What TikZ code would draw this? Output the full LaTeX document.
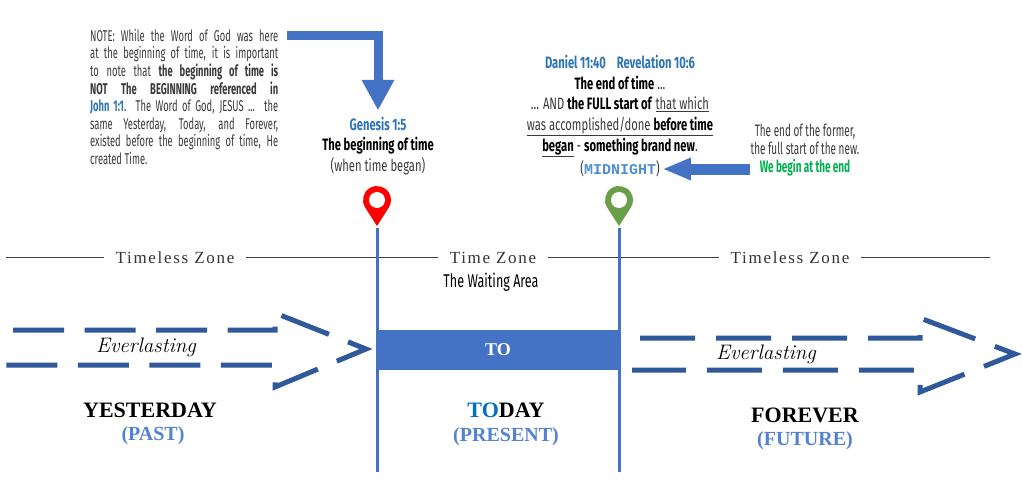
\documentclass[tikz,border=0pt]{standalone}
\usepackage{fontspec}
\usetikzlibrary{calc,arrows.meta}
\newfontfamily\agency{Fira Sans}[FakeStretch=0.68]
\newfontfamily\agencyn{Fira Sans}[FakeStretch=0.6]
\newfontfamily\harring{Liberation Serif}[LetterSpace=10]
\newfontfamily\showy{Liberation Serif}
\newfontfamily\courierb{Liberation Mono}
\definecolor{barblue}{HTML}{4472C4}
\definecolor{dashblue}{HTML}{30599B}
\definecolor{refblue}{HTML}{2E75B6}
\definecolor{pastblue}{HTML}{5382D2}
\definecolor{toblue}{HTML}{0070C0}
\definecolor{midblue}{HTML}{4F8FCF}
\definecolor{wegreen}{HTML}{00B050}
\definecolor{pingreen}{HTML}{6A9E48}
\definecolor{textgray}{HTML}{3A3A3A}
\def\mappin[#1](#2){\fill[#1] ($(#2)+(0,26)$) -- ($(#2)+(147.4:14)$) arc (147.4:392.6:14) -- cycle; \fill[white] (#2) circle (8);}
\def\noteline#1{\makebox[188pt][s]{#1}}
\tikzset{
	txt/.style={inner sep=0pt, text=textgray},
	zone/.style={fill=white, inner xsep=12pt, inner ysep=2pt, text=black!80, font=\harring\fontsize{17}{17}\selectfont},
	bigarrow/.style={draw=barblue, line width=9pt, -{Triangle[width=33pt,length=30pt,line width=0pt]}},
	backarrow/.style={draw=barblue, line width=11pt, -{Triangle[width=23pt,length=27pt,line width=0pt]}},
	dasharrow/.style={draw=dashblue, line width=5pt},
	timeline/.style={draw=barblue, line width=3pt},
	daylabel/.style={font=\showy\bfseries\fontsize{22}{22}\selectfont},
	partlabel/.style={text=pastblue, font=\showy\bfseries\fontsize{20}{20}\selectfont},
	everlabel/.style={font=\itshape\fontsize{21}{21}\selectfont}
}

\begin{document}
\begin{tikzpicture}[x=1pt,y=-1pt]
		%%%%% START %%%%%
		\path[use as bounding box, fill=white] (0,0) rectangle (1023,487);
		
		\node[txt, anchor=north west, align=left, font=\agencyn\fontsize{15.6}{17.6}\selectfont] (note) at (90,29) {%
			\noteline{NOTE: While the Word of God was here}\\
			\noteline{at the beginning of time, it is important}\\
			\noteline{to note that \textbf{the beginning of time is}}\\
			\noteline{\textbf{NOT The BEGINNING referenced in}}\\
			\noteline{\textcolor{refblue}{\textbf{John 1:1}}. The Word of God, JESUS ... the}\\
			\noteline{same Yesterday, Today, and Forever,}\\
			\noteline{existed before the beginning of time, He}\\
			created Time.};
		
		\node[txt, align=center, font=\agency\fontsize{16.5}{20.5}\selectfont] (gen) at (378,146) {%
			\textcolor{refblue}{\textbf{Genesis 1:5}}\\
			\textcolor{black}{\textbf{The beginning of time}}\\
			(when time began)};
		\draw[bigarrow] ([xshift=9pt,yshift=-7pt]note.north east) -| ([yshift=7pt]gen.north);
		
		\node[txt, align=center, font=\agency\fontsize{16.5}{20.6}\selectfont] (dan) at (620,106) {%
			\textcolor{refblue}{\textbf{Daniel 11:40\enspace\ Revelation 10:6}}\\
			\textcolor{black}{\textbf{The end of time}} ...\\
			... AND \textcolor{black}{\textbf{the FULL start of}} \underline{that which}\\
			\underline{was accomplished/done \textcolor{black}{\textbf{before time}}}\\
			\underline{\textcolor{black}{\textbf{began}}} - \textcolor{black}{\textbf{something brand new}}.};
		\node[txt, font=\agency\fontsize{16.5}{16.5}\selectfont] (mid) at (620,169) {(\textcolor{midblue}{\courierb\bfseries\fontsize{15}{15}\selectfont MIDNIGHT})};
		
		\node[txt, align=center, font=\agencyn\fontsize{16.6}{18.3}\selectfont] (endnote) at (805,150) {%
			The end of the former,\\
			the full start of the new.\\
			\textcolor{wegreen}{\textbf{We begin at the end}}};
		\draw[backarrow] (mid.east -| endnote.west) -- ([xshift=4pt]mid.east);
		
		\mappin[red](377,200)
		\mappin[pingreen](619,200)
		
		\draw[black!75, line width=1pt] (6,257) -- (990,257);
		\node[zone] (lzone) at (175,258) {Timeless Zone};
		\node[zone] (tzone) at (493,258) {Time Zone};
		\node[zone] (rzone) at (790,258) {Timeless Zone};
		\node[txt, text=black, font=\agency\fontsize{18.5}{18.5}\selectfont] (wait) at (491,282) {The Waiting Area};
		
		\fill[barblue] (377,330) rectangle (619,370);
		\node[text=white, font=\showy\bfseries\fontsize{18}{18}\selectfont] (to) at (498,350) {TO};
		\draw[timeline] (377,228) -- (377,472);
		\draw[timeline] (619,228) -- (619,472);
		
		\draw[dasharrow, dash pattern=on 51pt off 20.5pt] (13,330) -- (275,330) -- (275,313) -- (366,349) -- (275,387) -- (275,365) -- (5,365);
		\node[everlabel] (lever) at (146,347) {Everlasting};
		\draw[dasharrow, dash pattern=on 55pt off 21pt] (640,338) -- (920,338) -- (920,318) -- (1015,354) -- (920,392) -- (920,370) -- (632,370);
		\node[everlabel] (rever) at (766,354) {Everlasting};
		
		\node[daylabel] (yday) at (150,410) {YESTERDAY};
		\node[partlabel] (past) at (153,436) {(PAST)};
		\node[daylabel] (tday) at (506,410) {\textcolor{toblue}{TO}DAY};
		\node[partlabel] (pres) at (506,437) {(PRESENT)};
		\node[daylabel] (fday) at (805,415) {FOREVER};
		\node[partlabel] (futr) at (805,441) {(FUTURE)};
		
		%%%%% END %%%%%
	\end{tikzpicture}
\end{document}
